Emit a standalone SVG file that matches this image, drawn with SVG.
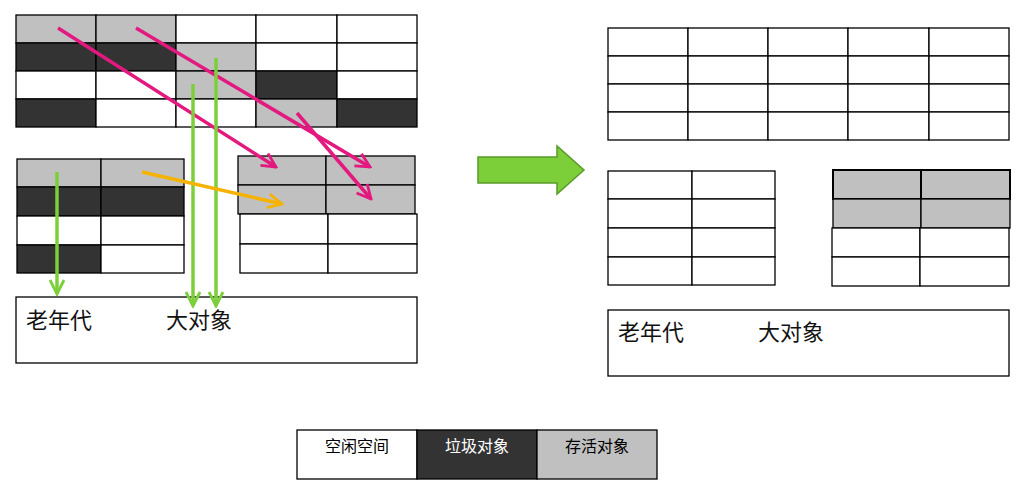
<svg xmlns="http://www.w3.org/2000/svg" width="1027" height="488" viewBox="0 0 1027 488">
<style>
.w{fill:#fff;stroke:#000;stroke-width:1.3}
.g{fill:#c0c0c0;stroke:#000;stroke-width:1.3}
.d{fill:#333;stroke:#000;stroke-width:1.3}
.t{font-family:"Liberation Sans","Noto Sans CJK SC",sans-serif;font-size:22px;fill:#111}
.l{font-family:"Liberation Sans","Noto Sans CJK SC",sans-serif;font-size:16px}
.pk{stroke:#e3197f;stroke-width:3.5;fill:none}
.gr{stroke:#7dcf3a;stroke-width:3.5;fill:none}
.or{stroke:#f5b300;stroke-width:3.5;fill:none}
</style>
<defs>
<marker id="mp" viewBox="0 0 10 10" refX="9" refY="5" markerWidth="5" markerHeight="5" orient="auto" markerUnits="strokeWidth"><path d="M1,1 L9,5 L1,9" fill="none" stroke="#e3197f" stroke-width="1.6"/></marker>
<marker id="mg" viewBox="0 0 10 10" refX="9" refY="5" markerWidth="5" markerHeight="5" orient="auto" markerUnits="strokeWidth"><path d="M1,1 L9,5 L1,9" fill="none" stroke="#7dcf3a" stroke-width="1.6"/></marker>
<marker id="mo" viewBox="0 0 10 10" refX="9" refY="5" markerWidth="5" markerHeight="5" orient="auto" markerUnits="strokeWidth"><path d="M1,1 L9,5 L1,9" fill="none" stroke="#f5b300" stroke-width="1.6"/></marker>
</defs>
<g id="left-eden">
<rect class="g" x="16" y="15" width="80" height="28"/><rect class="g" x="96" y="15" width="80" height="28"/><rect class="w" x="176" y="15" width="80" height="28"/><rect class="w" x="256" y="15" width="81" height="28"/><rect class="w" x="337" y="15" width="80" height="28"/>
<rect class="d" x="16" y="43" width="80" height="28"/><rect class="d" x="96" y="43" width="80" height="28"/><rect class="g" x="176" y="43" width="80" height="28"/><rect class="w" x="256" y="43" width="81" height="28"/><rect class="w" x="337" y="43" width="80" height="28"/>
<rect class="w" x="16" y="71" width="80" height="28"/><rect class="w" x="96" y="71" width="80" height="28"/><rect class="g" x="176" y="71" width="80" height="28"/><rect class="d" x="256" y="71" width="81" height="28"/><rect class="w" x="337" y="71" width="80" height="28"/>
<rect class="d" x="16" y="99" width="80" height="28"/><rect class="w" x="96" y="99" width="80" height="28"/><rect class="w" x="176" y="99" width="80" height="28"/><rect class="g" x="256" y="99" width="81" height="28"/><rect class="d" x="337" y="99" width="80" height="28"/>
</g>
<g id="left-from">
<rect class="g" x="17" y="159" width="84" height="28"/><rect class="g" x="101" y="159" width="83" height="28"/>
<rect class="d" x="17" y="187" width="84" height="29"/><rect class="d" x="101" y="187" width="83" height="29"/>
<rect class="w" x="17" y="216" width="84" height="29"/><rect class="w" x="101" y="216" width="83" height="29"/>
<rect class="d" x="17" y="245" width="84" height="28"/><rect class="w" x="101" y="245" width="83" height="28"/>
</g>
<g id="left-to">
<rect class="g" x="238" y="156" width="88" height="29"/><rect class="g" x="326" y="156" width="89" height="29"/>
<rect class="g" x="238" y="185" width="88" height="29"/><rect class="g" x="326" y="185" width="89" height="29"/>
<rect class="w" x="240" y="214" width="88" height="30"/><rect class="w" x="328" y="214" width="89" height="30"/>
<rect class="w" x="240" y="244" width="88" height="29"/><rect class="w" x="328" y="244" width="89" height="29"/>
</g>
<g id="left-old">
<rect class="w" x="16" y="297" width="401" height="66"/>
<text class="t" x="26" y="328">老年代</text><text class="t" x="166" y="328">大对象</text>
</g>
<g id="right-eden">
<rect class="w" x="608" y="28" width="80" height="28"/><rect class="w" x="688" y="28" width="80" height="28"/><rect class="w" x="768" y="28" width="80" height="28"/><rect class="w" x="848" y="28" width="81" height="28"/><rect class="w" x="929" y="28" width="80" height="28"/>
<rect class="w" x="608" y="56" width="80" height="28"/><rect class="w" x="688" y="56" width="80" height="28"/><rect class="w" x="768" y="56" width="80" height="28"/><rect class="w" x="848" y="56" width="81" height="28"/><rect class="w" x="929" y="56" width="80" height="28"/>
<rect class="w" x="608" y="84" width="80" height="28"/><rect class="w" x="688" y="84" width="80" height="28"/><rect class="w" x="768" y="84" width="80" height="28"/><rect class="w" x="848" y="84" width="81" height="28"/><rect class="w" x="929" y="84" width="80" height="28"/>
<rect class="w" x="608" y="112" width="80" height="28"/><rect class="w" x="688" y="112" width="80" height="28"/><rect class="w" x="768" y="112" width="80" height="28"/><rect class="w" x="848" y="112" width="81" height="28"/><rect class="w" x="929" y="112" width="80" height="28"/>
</g>
<g id="right-from">
<rect class="w" x="608" y="171" width="84" height="28"/><rect class="w" x="692" y="171" width="83" height="28"/>
<rect class="w" x="608" y="199" width="84" height="29"/><rect class="w" x="692" y="199" width="83" height="29"/>
<rect class="w" x="608" y="228" width="84" height="29"/><rect class="w" x="692" y="228" width="83" height="29"/>
<rect class="w" x="608" y="257" width="84" height="28"/><rect class="w" x="692" y="257" width="83" height="28"/>
</g>
<g id="right-to">
<rect class="g" x="833" y="170" width="88" height="29" style="stroke-width:2"/><rect class="g" x="921" y="170" width="89" height="29" style="stroke-width:2"/>
<rect class="g" x="833" y="199" width="88" height="29"/><rect class="g" x="921" y="199" width="89" height="29"/>
<rect class="w" x="832" y="228" width="88" height="29"/><rect class="w" x="920" y="228" width="89" height="29"/>
<rect class="w" x="832" y="257" width="88" height="29"/><rect class="w" x="920" y="257" width="89" height="29"/>
</g>
<g id="right-old">
<rect class="w" x="608" y="310" width="401" height="66"/>
<text class="t" x="618" y="340">老年代</text><text class="t" x="758" y="340">大对象</text>
</g>
<g id="big-arrow">
<path d="M478,157 L557,157 L557,146 L584,170 L557,194 L557,183 L478,183 Z" fill="#7dcf3a" stroke="#5a9a2a" stroke-width="1.5"/>
</g>
<g id="legend">
<rect class="w" x="297" y="430" width="120" height="49"/><rect class="d" x="417" y="430" width="120" height="49"/><rect class="g" x="537" y="430" width="120" height="49"/>
<text class="l" x="357" y="452" text-anchor="middle" fill="#000">空闲空间</text>
<text class="l" x="477" y="452" text-anchor="middle" fill="#fff">垃圾对象</text>
<text class="l" x="597" y="452" text-anchor="middle" fill="#000">存活对象</text>
</g>
<g id="connectors">
<line class="pk" x1="58" y1="28" x2="276" y2="167" marker-end="url(#mp)"/>
<line class="pk" x1="136" y1="28" x2="370" y2="167" marker-end="url(#mp)"/>
<line class="pk" x1="297" y1="113" x2="371" y2="199" marker-end="url(#mp)"/>
<line class="gr" x1="57" y1="172" x2="57" y2="294" marker-end="url(#mg)"/>
<line class="gr" x1="193" y1="84" x2="193" y2="306" marker-end="url(#mg)"/>
<line class="gr" x1="216" y1="58" x2="216" y2="306" marker-end="url(#mg)"/>
<line class="or" x1="142" y1="172" x2="282" y2="204" marker-end="url(#mo)"/>
</g>
</svg>
